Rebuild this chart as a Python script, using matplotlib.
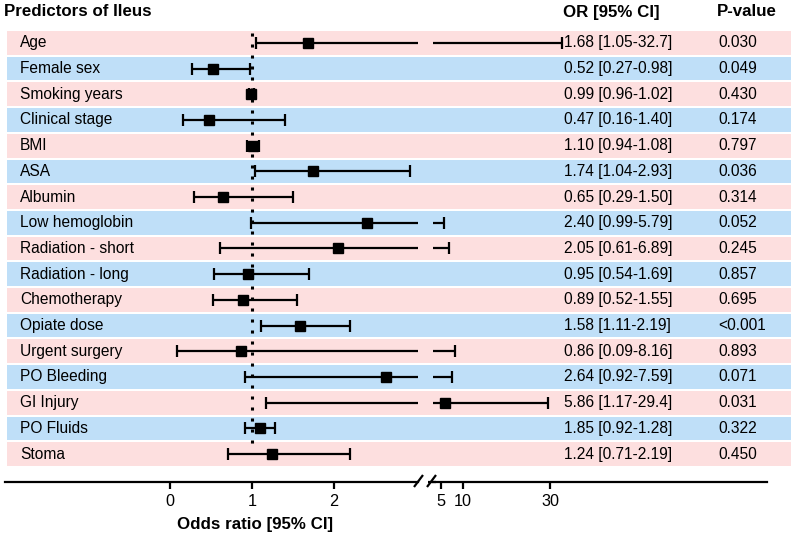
import matplotlib
matplotlib.use("Agg")
import matplotlib.pyplot as plt
from matplotlib.patches import Rectangle

plt.rcParams['font.family'] = ['Liberation Sans', 'DejaVu Sans']

# table data
predictors = ["Age", "Female sex", "Smoking years", "Clinical stage", "BMI", "ASA",
              "Albumin", "Low hemoglobin", "Radiation - short", "Radiation - long",
              "Chemotherapy", "Opiate dose", "Urgent surgery", "PO Bleeding",
              "GI Injury", "PO Fluids", "Stoma"]
or_text = ["1.68 [1.05-32.7]", "0.52 [0.27-0.98]", "0.99 [0.96-1.02]", "0.47 [0.16-1.40]",
           "1.10 [0.94-1.08]", "1.74 [1.04-2.93]", "0.65 [0.29-1.50]", "2.40 [0.99-5.79]",
           "2.05 [0.61-6.89]", "0.95 [0.54-1.69]", "0.89 [0.52-1.55]", "1.58 [1.11-2.19]",
           "0.86 [0.09-8.16]", "2.64 [0.92-7.59]", "5.86 [1.17-29.4]", "1.85 [0.92-1.28]",
           "1.24 [0.71-2.19]"]
p_values = ["0.030", "0.049", "0.430", "0.174", "0.797", "0.036", "0.314", "0.052",
            "0.245", "0.857", "0.695", "<0.001", "0.893", "0.071", "0.031", "0.322", "0.450"]

# plotted values (as drawn in the figure)
or_plot = [1.68, 0.52, 0.99, 0.47, 1.01, 1.74, 0.65, 2.40, 2.05, 0.95, 0.89, 1.58,
           0.86, 2.64, 5.86, 1.10, 1.24]
ci_low = [1.05, 0.27, 0.96, 0.16, 0.94, 1.04, 0.29, 0.99, 0.61, 0.54, 0.52, 1.11,
          0.09, 0.92, 1.17, 0.92, 0.71]
ci_high = [32.7, 0.98, 1.02, 1.40, 1.08, 2.93, 1.50, 5.79, 6.89, 1.69, 1.55, 2.19,
           8.16, 7.59, 29.4, 1.28, 2.19]

left_ticks = [0, 1, 2]
right_ticks = [5, 10, 30]

W, H = 793, 536
fig = plt.figure(figsize=(W / 100, H / 100), dpi=100)

# background axes in pixel coords
bg = fig.add_axes([0, 0, 1, 1])
bg.set_xlim(0, W)
bg.set_ylim(H, 0)
bg.axis('off')

row_top = 30
row_h = 25.7
n = len(predictors)
for i in range(n):
    col = '#fddfdf' if i % 2 == 0 else '#bfdff8'
    bg.add_patch(Rectangle((7, row_top + i * row_h + 1), 784, row_h - 2,
                           facecolor=col, edgecolor='none'))
    yc = row_top + (i + 0.5) * row_h
    bg.text(20, yc, predictors[i], fontsize=11.2, va='center', ha='left')
    bg.text(564, yc, or_text[i], fontsize=11.2, va='center', ha='left')
    bg.text(718, yc, p_values[i], fontsize=11.2, va='center', ha='left')

bg.text(4, 12, "Predictors of Ileus", fontsize=12.2, fontweight='bold', va='center')
bg.text(563, 12, "OR [95% CI]", fontsize=12.2, fontweight='bold', va='center')
bg.text(717, 12, "P-value", fontsize=12.2, fontweight='bold', va='center')
bg.text(255, 525, "Odds ratio [95% CI]", fontsize=12.2, fontweight='bold',
        va='center', ha='center')

axis_y = 482
# axis break marks and short stub of the right axis line
for x0 in (414, 427):
    bg.plot([x0, x0 + 9], [487, 475], color='black', lw=1.6, solid_capstyle='butt')
bg.plot([428, 436], [axis_y, axis_y], color='black', lw=1.6, solid_capstyle='butt')

ylim_bottom = (axis_y - row_top) / row_h
ax_bottom = 1 - axis_y / H
ax_height = (axis_y - row_top) / H

px_l, x0_l = 82, 170          # left segment: px per unit, pixel of 0
xl_min, xl_max = (5 - x0_l) / px_l, (418 - x0_l) / px_l
px_r, x5_r = 4.37, 441        # right segment: px per unit, pixel of 5
xr_min, xr_max = 3.2, 5 + (767 - x5_r) / px_r
r_left_pix = x5_r + (xr_min - 5) * px_r

ax_l = fig.add_axes([5 / W, ax_bottom, (418 - 5) / W, ax_height])
ax_r = fig.add_axes([r_left_pix / W, ax_bottom, (767 - r_left_pix) / W, ax_height])

ys = [i + 0.5 for i in range(n)]
for ax, (lo, hi), ticks in ((ax_l, (xl_min, xl_max), left_ticks),
                            (ax_r, (xr_min, xr_max), right_ticks)):
    ax.patch.set_alpha(0)
    ax.set_xlim(lo, hi)
    ax.set_ylim(ylim_bottom, 0)
    ax.hlines(ys, ci_low, ci_high, color='black', lw=1.6)
    for vals in (ci_low, ci_high):
        pts = [(v, y) for v, y in zip(vals, ys) if lo <= v <= hi]
        ax.plot([p[0] for p in pts], [p[1] for p in pts], linestyle='none',
                marker='|', ms=9, mew=1.6, color='black')
    pts = [(v, y) for v, y in zip(or_plot, ys) if lo <= v <= hi]
    ax.plot([p[0] for p in pts], [p[1] for p in pts], linestyle='none',
            marker='s', ms=7, color='black')
    for s in ('top', 'left', 'right'):
        ax.spines[s].set_visible(False)
    ax.spines['bottom'].set_linewidth(1.6)
    ax.set_yticks([])
    ax.set_xticks(ticks)
    ax.tick_params(axis='x', length=5, width=1.6, labelsize=11.7, pad=3.5)

ax_l.plot([1, 1], [0.1, 16.1], color='black', lw=2.2, linestyle=(0, (1, 2.6)))

fig.savefig("out.png", dpi=100)
